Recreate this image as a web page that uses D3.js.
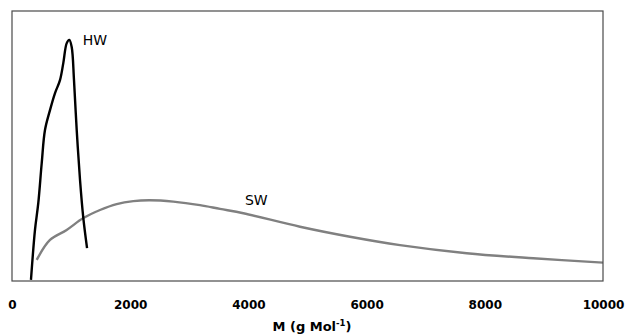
<!DOCTYPE html>
<html>
  <head>
    <script src="https://cdn.jsdelivr.net/npm/d3@7"></script>
    <style>
      body { margin: 0; background: #fff; }
      svg { display: block; }
    </style>
  </head>
  <body>
    <svg width="627" height="336" id="mainsvg"></svg>
    <script>
        // molar mass (g/mol) and relative intensity
        const hwM = [321, 389, 445, 503, 558, 643, 728, 812, 868, 926, 970, 1010, 1049, 1095, 1151, 1206, 1270];
        const hwY = [0.4, 18.9, 28.9, 43.7, 55.9, 63.3, 69.6, 74.4, 80.7, 88.1, 89.3, 86.7, 74.4, 55.9, 37.4, 23.5, 12.2];
        const swM = [418, 643, 925, 1207, 1489, 1771, 2053, 2335, 2729, 3181, 3519, 3914, 4873, 5719, 6565, 7694, 8821, 10000];
        const swY = [7.8, 15.2, 18.9, 23.3, 26.3, 28.5, 29.6, 29.9, 29.4, 28.1, 26.7, 25.1, 20.1, 16.4, 13.3, 10.3, 8.4, 6.8];
        const xTicks = [0, 2000, 4000, 6000, 8000, 10000];

        const svg = d3.select('#mainsvg');
        const margin = {top: 11, right: 24, bottom: 55, left: 12};
        const width = +svg.attr('width');
        const height = +svg.attr('height');
        const innerWidth = width - margin.left - margin.right;
        const innerHeight = height - margin.top - margin.bottom;
        const font = 'DejaVu Sans, sans-serif';

        svg.append('defs').append('clipPath').attr('id', 'clip')
        .append('rect').attr('width', innerWidth).attr('height', innerHeight);

        const g = svg.append('g').attr('transform', `translate(${margin.left}, ${margin.top})`);

        const x = d3.scaleLinear().domain([0, 10000]).range([0, innerWidth]);
        const y = d3.scaleLinear().domain([0, 100]).range([innerHeight, 0]);

        const line = d3.line().x(d => x(d[0])).y(d => y(d[1])).curve(d3.curveCatmullRom);

        const plot = g.append('g').attr('clip-path', 'url(#clip)');
        plot.append('path').datum(d3.zip(swM, swY))
        .attr('d', line).attr('fill', 'none').attr('stroke', '#808080').attr('stroke-width', 2.4);
        plot.append('path').datum(d3.zip(hwM, hwY))
        .attr('d', line).attr('fill', 'none').attr('stroke', '#000').attr('stroke-width', 2.4);

        g.append('rect').attr('width', innerWidth).attr('height', innerHeight)
        .attr('fill', 'none').attr('stroke', '#4a4a4a').attr('stroke-width', 1.2);

        // x axis labels only, no tick marks
        const xAxis = d3.axisBottom(x).tickValues(xTicks).tickFormat(d3.format('d'))
        .tickSize(0).tickPadding(19);
        const ax = g.append('g').attr('transform', `translate(0, ${innerHeight})`).call(xAxis);
        ax.select('.domain').remove();
        ax.attr('font-family', font).attr('font-size', 12);
        ax.selectAll('text').attr('font-weight', 'bold').attr('fill', '#000');

        const title = svg.append('text').attr('x', 312).attr('y', 331)
        .attr('text-anchor', 'middle').attr('font-family', font)
        .attr('font-size', 13).attr('font-weight', 'bold');
        title.append('tspan').text('M (g Mol');
        title.append('tspan').attr('dy', -5).attr('font-size', 8.5).text('-1');
        title.append('tspan').attr('dy', 5).text(')');

        g.append('text').attr('x', x(1196)).attr('y', y(87.4))
        .attr('font-family', font).attr('font-size', 14).text('HW');
        g.append('text').attr('x', x(3942)).attr('y', y(28.1))
        .attr('font-family', font).attr('font-size', 14).text('SW');
    </script>
  </body>
</html>
